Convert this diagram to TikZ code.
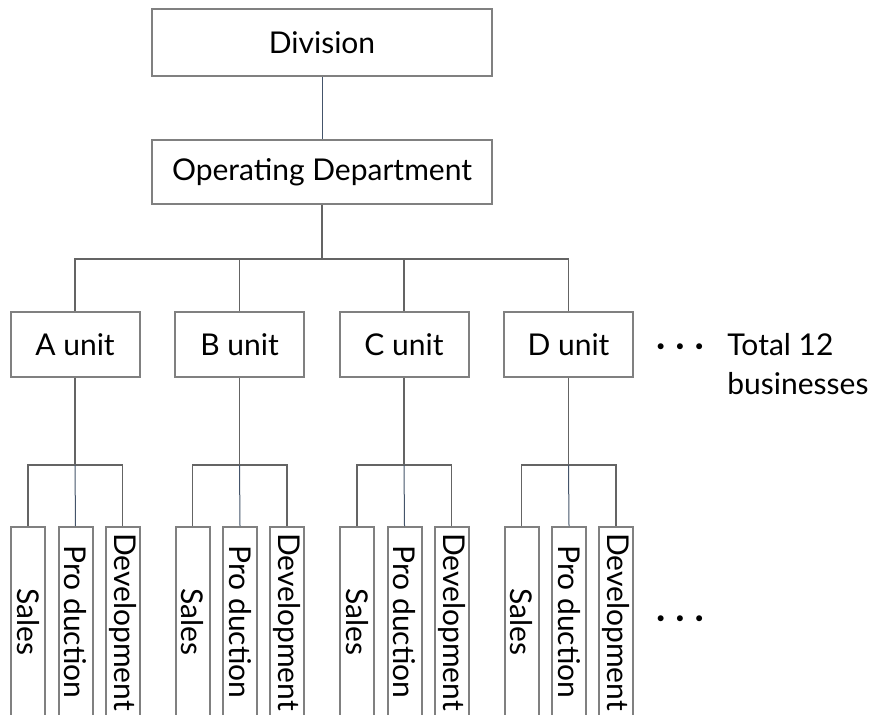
\documentclass[tikz,border=0pt]{standalone}
\usepackage{fontspec}
\setmainfont{Lato}
\definecolor{boxgray}{RGB}{128,128,128}
\definecolor{linegray}{RGB}{100,100,100}
\definecolor{slate}{RGB}{68,84,106}
\tikzset{
  box/.style={draw=boxgray,line width=1pt,fill=white,inner sep=0pt,font=\fontsize{15}{18}\selectfont},
  subbox/.style={box,rotate=-90,minimum width=95pt,minimum height=17pt},
  link/.style={draw=linegray,line width=0.7pt},
  thinlink/.style={draw=slate,line width=0.5pt},
  note/.style={inner sep=0pt,font=\fontsize{15}{19.5}\selectfont}
}
\begin{document}
\begin{tikzpicture}[x=0.5pt,y=-0.5pt]
\useasboundingbox (0,0) rectangle (892,715);
\node[box,minimum width=170pt,minimum height=33.5pt] (div) at (322,42.5) {Division};
\node[box,minimum width=170pt,minimum height=32pt] (dept) at (322,172) {Operating Department};
\draw[thinlink] (div) -- (dept);
\coordinate (topbar) at (0,259);
\coordinate (lowbar) at (0,465);
\draw[link] (dept.south) -- (dept.south |- topbar);
\foreach \u/\x in {A/75,B/239.5,C/404,D/568.5} {
  \node[box,minimum width=64.5pt,minimum height=32.5pt] (\u) at (\x,344.5) {\u\ unit};
  \draw[link] (dept.south |- topbar) -| (\u.north);
  \node[subbox] (\u1) at (\x-47,622) {Sales};
  \node[subbox] (\u2) at (\x+0.5,622) {Pro duction};
  \node[subbox] (\u3) at (\x+47.5,622) {Development};
  \draw[link] (\u.south) -- (\u.south |- lowbar);
  \draw[link] (\u1.west) |- (\u.south |- lowbar) -| (\u3.west);
  \draw[thinlink] (\u.south |- lowbar) -- (\u2.west);
}
\node[inner sep=0pt,font=\fontsize{8}{8}\selectfont] (dotsup) at (680,348) {\textbullet\hspace{5pt}\textbullet\hspace{5pt}\textbullet};
\node[note,align=left,anchor=north west] (total) at (727,333) {Total 12\\ businesses};
\node[inner sep=0pt,font=\fontsize{8}{8}\selectfont] (dotsdown) at (680,620) {\textbullet\hspace{5pt}\textbullet\hspace{5pt}\textbullet};
\end{tikzpicture}
\end{document}
